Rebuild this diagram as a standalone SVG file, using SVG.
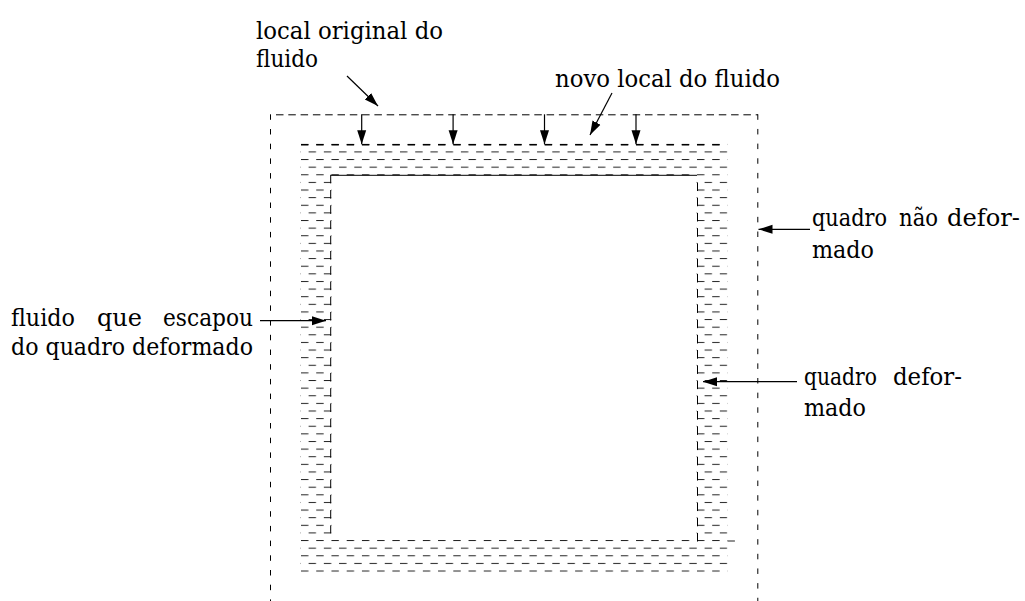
<svg xmlns="http://www.w3.org/2000/svg" width="1025" height="601" viewBox="0 0 1025 601">
  <style>
    .lbl { font-family: 'DejaVu Serif', serif; font-size: 24px; fill: #000; }
    .frame { fill: none; stroke: #000; stroke-width: 1; }
    .arrow { fill: none; stroke: #000; stroke-width: 1.2; marker-end: url(#head); }
  </style>
  <defs>
    <marker id="head" markerUnits="userSpaceOnUse" markerWidth="15" markerHeight="11" viewBox="0 0 15 11" refX="14" refY="5.5" orient="auto">
      <path d="M0,1 L14,5.5 L0,10 z" fill="#000"/>
    </marker>
    <!-- brick-like fluid hatching: staggered dashes, row pitch 7.62 -->
    <pattern id="fluid" patternUnits="userSpaceOnUse" x="301" y="143.8" width="15.23" height="15.24">
      <rect x="0" y="0" width="7.4" height="1" fill="#222"/>
      <rect x="7.6" y="7.62" width="7.4" height="1" fill="#222"/>
    </pattern>
  </defs>

  <!-- undeformed frame (dashed, open at the bottom) -->
  <g id="undeformed-frame">
    <path class="frame" d="M276 114.8 H758" stroke-dasharray="7.5 4.8"/>
    <path class="frame" d="M270.5 114.3 V601" stroke-dasharray="5.5 9.2"/>
    <path class="frame" d="M757.8 114.3 V601" stroke-dasharray="5.5 9.15"/>
  </g>

  <!-- fluid layer around the deformed frame -->
  <g id="fluid-layer">
    <rect x="300.5" y="143.5" width="426.9" height="33" fill="url(#fluid)"/>
    <rect x="300.5" y="181" width="31.2" height="353" fill="url(#fluid)"/>
    <rect x="696.5" y="181" width="30.9" height="353" fill="url(#fluid)"/>
    <rect x="300.5" y="539.5" width="426.9" height="33" fill="url(#fluid)"/>
    <rect x="727.5" y="540.5" width="7.4" height="1" fill="#222"/>
    <!-- new fluid surface -->
    <path d="M301 144.8 H720" fill="none" stroke="#000" stroke-width="1.4" stroke-dasharray="7.4 7.83"/>
  </g>

  <!-- deformed frame -->
  <g id="deformed-frame">
    <path class="frame" d="M331 175.3 H697"/>
    <path class="frame" d="M330.7 174.8 V533.4" stroke-dasharray="8.6 6.64"/>
    <path class="frame" d="M697.5 182.4 V541.5" stroke-dasharray="8.6 6.64"/>
  </g>

  <!-- labels -->
  <g id="label-local-original">
    <text class="lbl" x="256" y="39" textLength="187" lengthAdjust="spacingAndGlyphs">local original do</text>
    <text class="lbl" x="256" y="67" textLength="62" lengthAdjust="spacingAndGlyphs">fluido</text>
  </g>
  <g id="label-novo-local">
    <text class="lbl" x="555" y="87" textLength="225" lengthAdjust="spacingAndGlyphs">novo local do fluido</text>
  </g>
  <g id="label-quadro-nao-deformado">
    <text class="lbl" x="812" y="226" textLength="75" lengthAdjust="spacingAndGlyphs">quadro</text>
    <text class="lbl" x="899" y="226" textLength="39" lengthAdjust="spacingAndGlyphs">não</text>
    <text class="lbl" x="947" y="226" textLength="73" lengthAdjust="spacingAndGlyphs">defor-</text>
    <text class="lbl" x="812" y="258" textLength="62" lengthAdjust="spacingAndGlyphs">mado</text>
  </g>
  <g id="label-fluido-escapou">
    <text class="lbl" x="11" y="326" textLength="64" lengthAdjust="spacingAndGlyphs">fluido</text>
    <text class="lbl" x="97" y="326">que</text>
    <text class="lbl" x="163" y="326" textLength="90" lengthAdjust="spacingAndGlyphs">escapou</text>
    <text class="lbl" x="11" y="355" textLength="242" lengthAdjust="spacingAndGlyphs">do quadro deformado</text>
  </g>
  <g id="label-quadro-deformado">
    <text class="lbl" x="804" y="385" textLength="73" lengthAdjust="spacingAndGlyphs">quadro</text>
    <text class="lbl" x="893" y="385" textLength="69" lengthAdjust="spacingAndGlyphs">defor-</text>
    <text class="lbl" x="804" y="416" textLength="62" lengthAdjust="spacingAndGlyphs">mado</text>
  </g>

  <!-- connectors -->
  <g id="connectors">
    <path class="arrow" d="M361.7 114.3 V144.3"/>
    <path class="arrow" d="M453.1 114.3 V144.3"/>
    <path class="arrow" d="M544.5 114.3 V144.3"/>
    <path class="arrow" d="M636 114.3 V144.3"/>
    <path class="arrow" d="M347 76 L378 106"/>
    <path class="arrow" d="M612 93 L590 135"/>
    <path class="arrow" d="M810 229.3 H758.5"/>
    <path class="arrow" d="M260 320.7 H326"/>
    <path class="arrow" d="M797 381.7 H703"/>
  </g>
</svg>
